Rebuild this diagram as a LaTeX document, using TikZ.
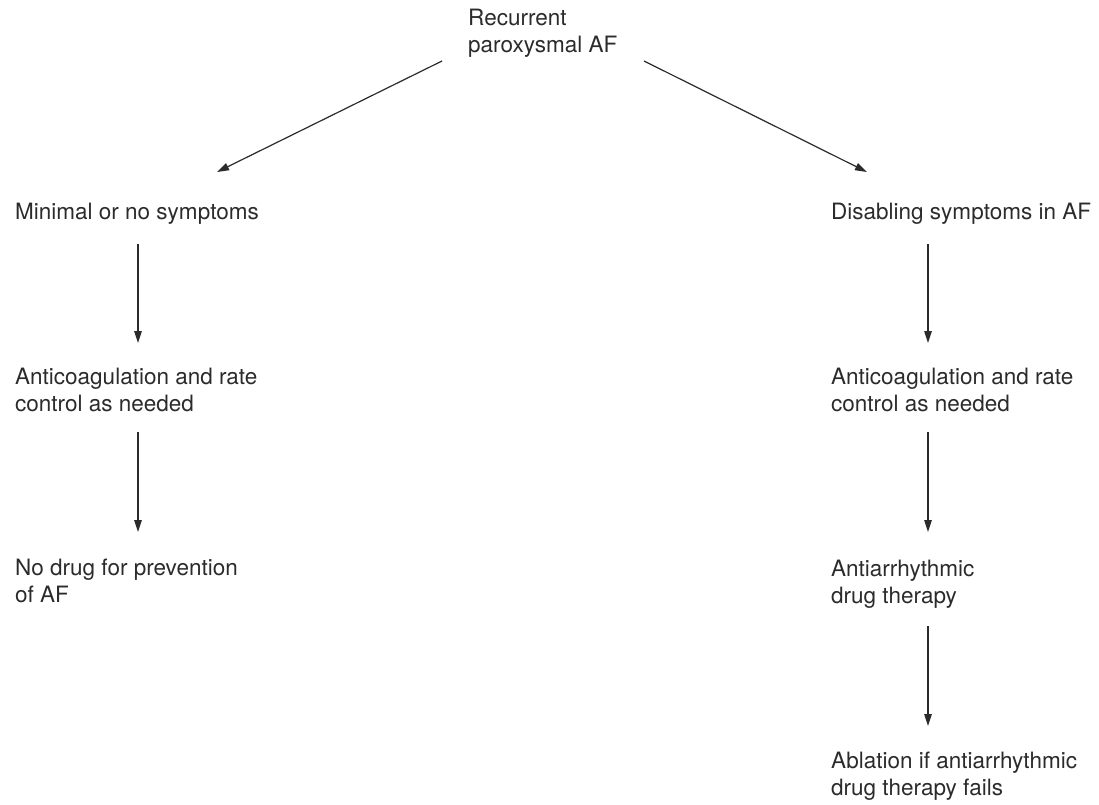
\documentclass[tikz,border=0pt]{standalone}
\usepackage{fontspec}
\setmainfont{TeX Gyre Heros}
\usetikzlibrary{arrows.meta}
\definecolor{ink}{HTML}{2B2B2B}
\tikzset{
  lbl/.style={anchor=north west, inner sep=0pt, align=left, text=ink,
    font=\fontsize{22.5}{27}\selectfont},
  arr/.style={draw=ink, line width=1.2pt, -{Triangle[length=12pt,width=7.5pt]}}
}
\begin{document}
\begin{tikzpicture}[x=1pt,y=-1pt]
\useasboundingbox (0,0) rectangle (1099,804);
% text nodes (tops at cap height)
\node[lbl] (top)   at (468,8.5)   {Recurrent\\paroxysmal AF};
\node[lbl] (minL)  at (15,202.5)  {Minimal or no symptoms};
\node[lbl] (antiL) at (15,367.5)  {Anticoagulation and rate\\control as needed};
\node[lbl] (nod)   at (15,558.5)  {No drug for prevention\\of AF};
\node[lbl] (dis)   at (831,202.5) {Disabling symptoms in AF};
\node[lbl] (antiR) at (831,367.5) {Anticoagulation and rate\\control as needed};
\node[lbl] (aad)   at (831,559.5) {Antiarrhythmic\\drug therapy};
\node[lbl] (abl)   at (831,751.5) {Ablation if antiarrhythmic\\drug therapy fails};
% connector end points
\coordinate (tL) at (442,61);  \coordinate (hL) at (217,172);
\coordinate (tR) at (644,61);  \coordinate (hR) at (867,172);
\coordinate (l1a) at (138,244); \coordinate (l1b) at (138,343);
\coordinate (l2a) at (138,432); \coordinate (l2b) at (138,532);
\coordinate (r1a) at (928,244); \coordinate (r1b) at (928,343);
\coordinate (r2a) at (928,432); \coordinate (r2b) at (928,532);
\coordinate (r3a) at (928,626); \coordinate (r3b) at (928,726);
% connectors
\draw[arr] (tL) -- (hL);
\draw[arr] (tR) -- (hR);
\draw[arr] (l1a) -- (l1b);
\draw[arr] (l2a) -- (l2b);
\draw[arr] (r1a) -- (r1b);
\draw[arr] (r2a) -- (r2b);
\draw[arr] (r3a) -- (r3b);
\end{tikzpicture}
\end{document}
